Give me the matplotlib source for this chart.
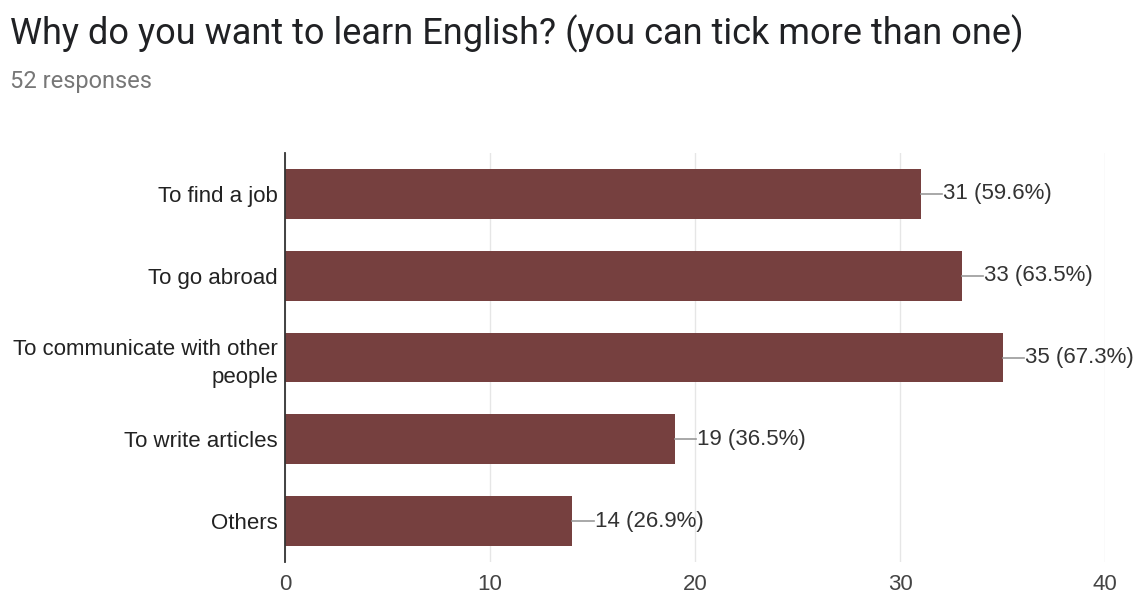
import matplotlib.pyplot as plt

categories = ["To find a job", "To go abroad", "To communicate with other\npeople",
              "To write articles", "Others"]
counts = [31, 33, 35, 19, 14]
percents = [59.6, 63.5, 67.3, 36.5, 26.9]
x_ticks = [0, 10, 20, 30, 40]

bar_color = "#76403f"

fig = plt.figure(figsize=(11.38, 5.99), dpi=100)
ax = fig.add_axes([285 / 1138, 1 - 562 / 599, 820 / 1138, 409 / 599])

ypos = list(range(len(categories)))
ax.barh(ypos, counts, height=0.61, color=bar_color, zorder=3)

# value labels with a short leader line
for y, c, p in zip(ypos, counts, percents):
    ax.plot([c, c + 1.05], [y, y], color="#999999", lw=1.2, zorder=3)
    ax.text(c + 1.1, y, f"{c} ({p}%)", va="center", ha="left",
            fontsize=16, color="#333333", family="Liberation Sans")

ax.set_ylim(len(categories) - 0.5, -0.5)
ax.set_xlim(0, 40)
ax.set_xticks(x_ticks)
ax.set_yticks(ypos)
ax.set_yticklabels(categories, fontsize=16, color="#222222", family="Liberation Sans",
                   linespacing=1.45)
ax.tick_params(axis="x", labelsize=16, labelcolor="#444444", length=0, pad=9)
ax.tick_params(axis="y", length=0, pad=5)
for lbl in ax.get_xticklabels():
    lbl.set_family("Liberation Sans")

ax.grid(axis="x", color="#e6e6e6", lw=1, zorder=0)
for s in ["top", "right", "bottom"]:
    ax.spines[s].set_visible(False)
ax.spines["left"].set_color("#333333")
ax.spines["left"].set_linewidth(1.3)
ax.spines["left"].set_zorder(4)

fig.text(10 / 1138, 1 - 44 / 599, "Why do you want to learn English? (you can tick more than one)",
         fontsize=26, family="Roboto", color="#202124", va="baseline")
fig.text(10 / 1138, 1 - 88 / 599, "52 responses", fontsize=17, family="Roboto",
         color="#777777", va="baseline")

fig.savefig("out.png", dpi=100, facecolor="white")
